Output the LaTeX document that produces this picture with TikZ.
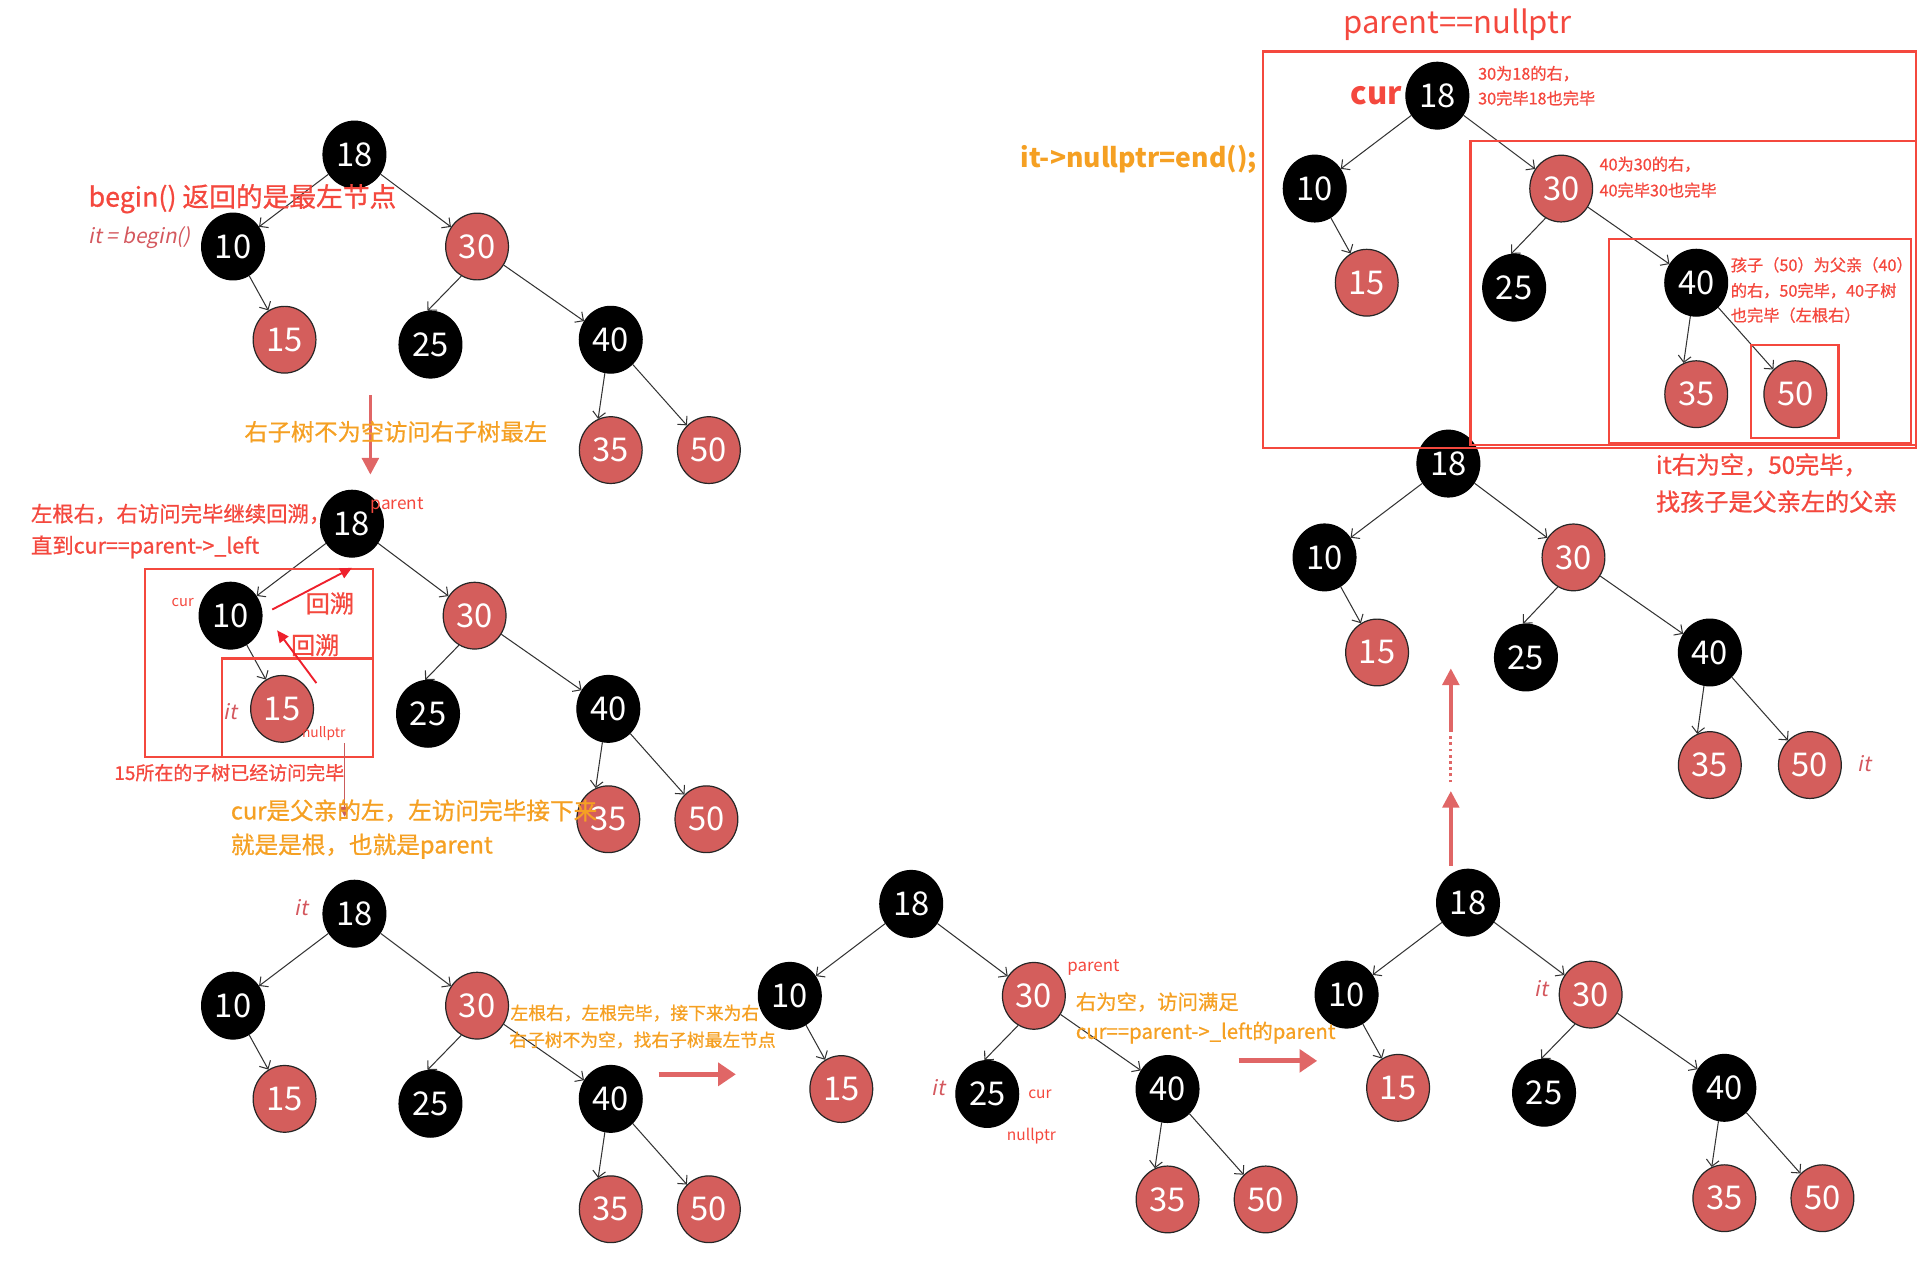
\documentclass[tikz,border=0pt]{standalone}
\usepackage{fontspec}
\setmainfont{Noto Sans CJK SC}
\newfontfamily\itfont[FakeSlant=0.2]{Noto Sans CJK SC}
\newfontfamily\medfont[FakeBold=0.8]{Noto Sans CJK SC}
\usetikzlibrary{arrows.meta,shapes.geometric}
\definecolor{nodered}{RGB}{212,94,92}
\definecolor{annred}{RGB}{244,72,62}
\definecolor{itred}{RGB}{212,88,94}
\definecolor{annorange}{RGB}{245,160,35}
\definecolor{salmon}{RGB}{224,102,102}
\definecolor{brightred}{RGB}{238,32,44}
\tikzset{
  rbnode/.style={ellipse, minimum width=1.28cm, minimum height=1.36cm, inner sep=0pt,
    text=white, font=\fontsize{19}{19}\selectfont, line width=0.7pt},
  bnode/.style={rbnode, fill=black, draw=black},
  rnode/.style={rbnode, fill=nodered, draw=black!85},
  treeedge/.style={draw=black!80, line width=0.6pt, -{Straight Barb[length=1.3mm,width=2.6mm]}},
  ann/.style={inner sep=0pt, anchor=west},
  lbl/.style={inner sep=0pt},
  redtxt/.style={text=annred},
  orgtxt/.style={text=annorange},
  ittxt/.style={inner sep=0pt, text=itred, font=\itfont\fontsize{12}{12}\selectfont},
  redbox/.style={draw=annred, line width=1.3pt},
  fatarrow/.style={draw=salmon, line width=2.8pt, -{Triangle[length=3.6mm,width=4.6mm]}},
  uparrow/.style={draw=salmon, line width=2pt, -{Triangle[length=3.4mm,width=3.4mm]}},
  backarrow/.style={draw=brightred, line width=1.1pt, -{Triangle[length=2.4mm,width=2.2mm]}},
  thinarrow/.style={draw=salmon!90!black, line width=1pt, -{Triangle[length=2mm,width=2mm]}},
}
\newcommand\rbtree[4]{%
  \begin{scope}[shift={(#2,#3)}, scale=#4]
    \node[bnode] (#1-18) at (0,0) {18};
    \node[bnode] (#1-10) at (-99,75) {10};
    \node[rnode] (#1-30) at (100,75) {30};
    \node[rnode] (#1-15) at (-57,151) {15};
    \node[bnode] (#1-25) at (62,155) {25};
    \node[bnode] (#1-40) at (209,151) {40};
    \node[rnode] (#1-35) at (209,241) {35};
    \node[rnode] (#1-50) at (289,241) {50};
    \draw[treeedge] (#1-18) -- (#1-10);
    \draw[treeedge] (#1-18) -- (#1-30);
    \draw[treeedge] (#1-10) -- (#1-15);
    \draw[treeedge] (#1-30.-118) -- (#1-25.95);
    \draw[treeedge] (#1-30) -- (#1-40);
    \draw[treeedge] (#1-40.-100) -- (#1-35.112);
    \draw[treeedge] (#1-40) -- (#1-50);
  \end{scope}}
\begin{document}
\begin{tikzpicture}[x=0.025cm, y=-0.025cm]
\useasboundingbox (0,0) rectangle (1568,1028);
% trees
\rbtree{A}{289}{126}{1}
\rbtree{B}{287}{427}{1}
\rbtree{C}{289}{745}{1}
\rbtree{D}{743}{737}{1}
\rbtree{E}{1197}{736}{1}
\rbtree{F}{1181}{378}{1.02}
\rbtree{G}{1172}{78}{1.01}

% ---- tree A annotations
\node[ann, redtxt, font=\medfont\fontsize{15.5}{15.5}\selectfont] (tA1) at (72,162) {begin() 返回的是最左节点};
\node[ittxt, anchor=west] (tA2) at (72,194) {it = begin()};
\coordinate (aAs) at (302,322);
\coordinate (aAe) at (302,387);
\draw[uparrow] (aAs) -- (aAe);
\node[ann, orgtxt, font=\medfont\fontsize{13.5}{13.5}\selectfont] (tA3) at (199,352) {右子树不为空访问右子树最左};

% ---- tree B annotations
\node[ann, redtxt, font=\fontsize{10}{10}\selectfont] (tB1) at (302,412) {parent};
\node[ann, redtxt, font=\medfont\fontsize{12.4}{12.4}\selectfont] (tB2) at (25,419) {左根右，右访问完毕继续回溯，};
\node[ann, redtxt, font=\medfont\fontsize{12.4}{12.4}\selectfont] (tB3) at (25,446) {直到cur==parent->\_left};
\draw[redbox] (118,464) rectangle (304,617);
\draw[redbox] (181,537) rectangle (304,617);
\node[lbl, redtxt, font=\fontsize{8.5}{8.5}\selectfont] (tB4) at (149,491) {cur};
\node[lbl, redtxt, font=\medfont\fontsize{14}{14}\selectfont] (tB5) at (269,492) {回溯};
\node[lbl, redtxt, font=\medfont\fontsize{14}{14}\selectfont] (tB6) at (257,526) {回溯};
\coordinate (bk1s) at (222,497);
\coordinate (bk1e) at (287,463);
\coordinate (bk2s) at (258,557);
\coordinate (bk2e) at (226,514);
\draw[backarrow] (bk1s) -- (bk1e);
\draw[backarrow] (bk2s) -- (bk2e);
\node[ittxt] (tB7) at (188,580) {it};
\node[lbl, redtxt, font=\fontsize{8}{8}\selectfont] (tB8) at (264,598) {nullptr};
\node[ann, redtxt, font=\medfont\fontsize{11}{11}\selectfont] (tB9) at (93,630) {15所在的子树已经访问完毕};
\coordinate (nlS) at (281,606);
\coordinate (nlE) at (281,666);
\draw[thinarrow] (nlS) -- (nlE);
\node[ann, orgtxt, font=\medfont\fontsize{13.7}{13.7}\selectfont] (tB10) at (188,661) {cur是父亲的左，左访问完毕接下来};
\node[ann, orgtxt, font=\medfont\fontsize{13.7}{13.7}\selectfont] (tB11) at (188,690) {就是是根，也就是parent};

% ---- tree C annotations
\node[ittxt] (tC1) at (246,740) {it};
\node[ann, orgtxt, font=\medfont\fontsize{10.3}{10.3}\selectfont] (tC2) at (416,826) {左根右，左根完毕，接下来为右};
\node[ann, orgtxt, font=\medfont\fontsize{10.3}{10.3}\selectfont] (tC3) at (415,848) {右子树不为空，找右子树最左节点};
\coordinate (cAs) at (537,876);
\coordinate (cAe) at (600,876);
\draw[fatarrow] (cAs) -- (cAe);

% ---- tree D annotations
\node[ann, redtxt, font=\fontsize{9.8}{9.8}\selectfont] (tD1) at (870,789) {parent};
\node[ann, orgtxt, font=\medfont\fontsize{11.8}{11.8}\selectfont] (tD2) at (877,817) {右为空，访问满足};
\node[ann, orgtxt, font=\medfont\fontsize{11.8}{11.8}\selectfont] (tD3) at (877,842) {cur==parent->\_left的parent};
\node[ittxt] (tD4) at (765,887) {it};
\node[lbl, redtxt, font=\fontsize{9}{9}\selectfont] (tD5) at (848,892) {cur};
\node[lbl, redtxt, font=\fontsize{9}{9}\selectfont] (tD6) at (841,926) {nullptr};
\coordinate (dAs) at (1010,865);
\coordinate (dAe) at (1074,865);
\draw[fatarrow] (dAs) -- (dAe);

% ---- tree E annotations
\node[ittxt] (tE1) at (1257,806) {it};
\coordinate (u1s) at (1183,706);
\coordinate (u1e) at (1183,645);
\coordinate (u2s) at (1183,638);
\coordinate (u2e) at (1183,600);
\coordinate (u3s) at (1183,597);
\coordinate (u3e) at (1183,545);
\draw[uparrow] (u1s) -- (u1e);
\draw[draw=salmon, line width=1.6pt, dotted] (u2s) -- (u2e);
\draw[uparrow] (u3s) -- (u3e);

% ---- tree F annotations
\node[ittxt] (tF1) at (1520,623) {it};
\node[ann, redtxt, font=\medfont\fontsize{14}{14}\selectfont] (tF2) at (1350,379) {it右为空，50完毕，};
\node[ann, redtxt, font=\medfont\fontsize{14}{14}\selectfont] (tF3) at (1350,409) {找孩子是父亲左的父亲};

% ---- tree G annotations
\draw[redbox] (1030,42) rectangle (1562,365);
\draw[redbox] (1199,115) rectangle (1562,363);
\draw[redbox] (1312,195) rectangle (1558,361);
\draw[redbox] (1428,281) rectangle (1499,357);
\node[ann, redtxt, font=\fontsize{18}{18}\selectfont] (tG1) at (1095,20) {parent==nullptr};
\node[lbl, redtxt, font=\bfseries\fontsize{18}{18}\selectfont] (tG2) at (1122,78) {cur};
\node[ann, orgtxt, font=\bfseries\fontsize{15.4}{15.4}\selectfont] (tG3) at (832,130) {it->nullptr=end();};
\node[ann, redtxt, font=\medfont\fontsize{9.4}{9.4}\selectfont] (tG4) at (1205,60) {30为18的右，};
\node[ann, redtxt, font=\medfont\fontsize{9.4}{9.4}\selectfont] (tG5) at (1205,80) {30完毕18也完毕};
\node[ann, redtxt, font=\medfont\fontsize{9.4}{9.4}\selectfont] (tG6) at (1304,134) {40为30的右，};
\node[ann, redtxt, font=\medfont\fontsize{9.4}{9.4}\selectfont] (tG7) at (1304,155) {40完毕30也完毕};
\node[ann, redtxt, font=\medfont\fontsize{9.4}{9.4}\selectfont] (tG8) at (1411,216) {孩子（50）为父亲（40）};
\node[ann, redtxt, font=\medfont\fontsize{9.4}{9.4}\selectfont] (tG9) at (1411,237) {的右，50完毕，40子树};
\node[ann, redtxt, font=\medfont\fontsize{9.4}{9.4}\selectfont] (tG10) at (1411,257) {也完毕（左根右）};
\end{tikzpicture}
\end{document}
